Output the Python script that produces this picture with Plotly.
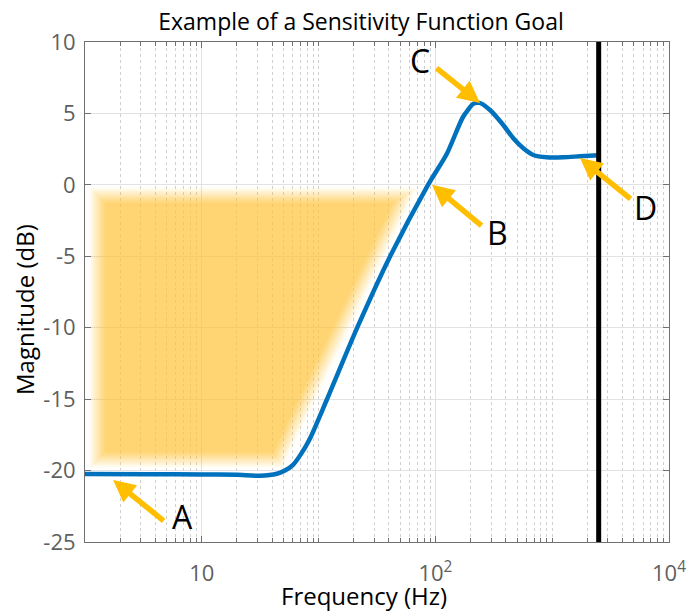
import numpy as np
import plotly.graph_objects as go

# ---- data -------------------------------------------------------------
# sensitivity magnitude response
freq = [1, 3.6, 10, 20, 31.5, 44, 51.5, 60.4, 70.6, 84.4, 117.3, 216, 408,
        865, 1257, 1723, 2100, 2270, 2410, 2934, 3811, 4645, 5660, 6890,
        8970, 12450, 17300, 25000]
mag_db = [-20.24, -20.25, -20.27, -20.3, -20.36, -20.22, -20.0, -19.6, -18.85,
          -17.75, -15.06, -9.93, -5.03, 0.0, 2.2, 4.75, 5.66, 5.75, 5.73,
          5.24, 4.19, 3.26, 2.56, 2.09, 1.93, 1.93, 2.0, 2.07]

# goal region (low-frequency disturbance rejection band)
goal_freq = [1.27, 550, 44.9, 1.27]
goal_db = [-0.71, -0.71, -19.26, -19.26]

# upper frequency limit of the goal
limit_freq = 25000

# annotated points: arrow tip, tail offset (px), label position
marks = ["A", "B", "C", "D"]
tip_freq = [1.74, 935, 2410, 17300]
tip_db = [-20.66, 0.0, 5.73, 1.88]
tail_dx = [52, 51, -45, 52]
tail_dy = [42, 42, -36, 42]
label_freq = [6.77, 3370, 738, 62300]
label_db = [-23.18, -3.3, 8.74, -1.55]

x_tickvals = [10, 1000, 100000]
x_ticktext = ["10", "10<sup>2</sup>", "10<sup>4</sup>"]
y_tickvals = [-25, -20, -15, -10, -5, 0, 5, 10]
y_ticktext = ["-25", "-20", "-15", "-10", "-5", "0", "5", "10"]

# ---- geometry ---------------------------------------------------------
W, H = 687, 611
ML, MR, MT, MB = 85, 18, 42, 69
PW, PH = W - ML - MR, H - MT - MB
XR = (0, 5)        # log10 range
YR = (-25, 10)


def to_px(f, db):
    f = np.asarray(f, float)
    db = np.asarray(db, float)
    px = ML + PW * (np.log10(f) - XR[0]) / (XR[1] - XR[0])
    py = MT + PH * (YR[1] - db) / (YR[1] - YR[0])
    return px, py


def from_px(px, py):
    lf = XR[0] + (np.asarray(px) - ML) * (XR[1] - XR[0]) / PW
    db = YR[1] - (np.asarray(py) - MT) * (YR[1] - YR[0]) / PH
    return 10 ** lf, db


def offset_polygon(pts, d):
    """Move every edge of a convex polygon inward by d pixels (d<0: outward)."""
    pts = np.asarray(pts, float)
    n = len(pts)
    area = 0.5 * np.sum(pts[:, 0] * np.roll(pts[:, 1], -1)
                        - np.roll(pts[:, 0], -1) * pts[:, 1])
    sign = 1.0 if area > 0 else -1.0
    lines = []
    for i in range(n):
        p, q = pts[i], pts[(i + 1) % n]
        t = (q - p) / np.linalg.norm(q - p)
        inward = sign * np.array([-t[1], t[0]])
        lines.append((p + d * inward, t))
    out = []
    for i in range(n):
        (p1, t1), (p2, t2) = lines[i - 1], lines[i]
        A = np.array([t1, -t2]).T
        s, _ = np.linalg.solve(A, p2 - p1)
        out.append(p1 + s * t1)
    return np.array(out)


fig = go.Figure()

# soft-edged goal region: stacked translucent layers
gx, gy = to_px(goal_freq, goal_db)
poly = np.column_stack([gx, gy])
steps = np.arange(-8, 9)
n_layers = len(steps)
a_max = 0.70
prev = 0.0
for i, d in enumerate(steps, start=1):
    target = a_max * (i / n_layers)
    a = 1 - (1 - target) / (1 - prev)
    prev = target
    p = offset_polygon(poly, d)
    fx, fy = from_px(p[:, 0], p[:, 1])
    fig.add_trace(go.Scatter(
        x=list(fx) + [fx[0]], y=list(fy) + [fy[0]],
        mode="lines", line=dict(width=0), fill="toself",
        fillcolor=f"rgba(255,200,62,{a:.4f})",
        hoverinfo="skip", showlegend=False))

# frequency response
fig.add_trace(go.Scatter(
    x=freq, y=mag_db, mode="lines",
    line=dict(color="#0072BD", width=4.5, shape="spline", smoothing=0.7),
    showlegend=False))

# frequency limit
fig.add_trace(go.Scatter(
    x=[limit_freq, limit_freq], y=[YR[0] - 0.1, YR[1] + 0.2], mode="lines",
    line=dict(color="black", width=5), cliponaxis=False, showlegend=False))

annotations = []
for k in range(len(marks)):
    annotations.append(dict(
        x=np.log10(tip_freq[k]), y=tip_db[k], xref="x", yref="y",
        ax=tail_dx[k], ay=tail_dy[k], text="", showarrow=True,
        arrowhead=2, arrowsize=0.8, arrowwidth=5.5, arrowcolor="#FFBE00"))
    annotations.append(dict(
        x=np.log10(label_freq[k]), y=label_db[k], xref="x", yref="y",
        text=marks[k], showarrow=False, xanchor="center", yanchor="middle",
        font=dict(size=32, color="black", family="Open Sans")))

# axis titles
annotations.append(dict(
    x=(364 - ML) / PW, y=-(595 - MT - PH) / PH, xref="paper", yref="paper",
    text="Frequency (Hz)", showarrow=False, xanchor="center",
    yanchor="middle", font=dict(size=24, color="black", family="Open Sans")))
annotations.append(dict(
    x=-(ML - 24) / PW, y=1 - (310 - MT) / PH, xref="paper", yref="paper",
    text="Magnitude (dB)", showarrow=False, textangle=-90,
    xanchor="center", yanchor="middle",
    font=dict(size=24, color="black", family="Open Sans")))

axis_gray = "#707070"
fig.update_layout(
    width=W, height=H, autosize=False,
    margin=dict(l=ML, r=MR, t=MT, b=MB, pad=0),
    paper_bgcolor="white", plot_bgcolor="white",
    font=dict(family="Open Sans", color="#5f5f5f"),
    title=dict(text="Example of a Sensitivity Function Goal",
               x=361 / W, xanchor="center", xref="container",
               y=1 - 22 / H, yanchor="middle", yref="container",
               font=dict(size=23, color="black", family="Open Sans")),
    annotations=annotations,
    xaxis=dict(
        type="log", range=list(XR), automargin=False,
        tickmode="array", tickvals=x_tickvals, ticktext=x_ticktext,
        tickfont=dict(size=22, color="#5f5f5f"),
        ticks="inside", ticklen=6, tickcolor=axis_gray, ticklabelstandoff=12,
        showline=True, linecolor=axis_gray, linewidth=1, mirror="ticks",
        showgrid=True, gridcolor="#e2e2e2", gridwidth=1,
        zeroline=False,
        minor=dict(
            tickmode="array",
            tickvals=[k * 10 ** n for n in range(0, 5) for k in range(1, 10)
                      if k * 10 ** n not in x_tickvals and k * 10 ** n != 1],
            ticks="inside", ticklen=4, tickcolor=axis_gray,
            showgrid=True, gridcolor="#cfcfcf", griddash="dot", gridwidth=1),
    ),
    yaxis=dict(
        range=list(YR), automargin=False,
        tickmode="array", tickvals=y_tickvals, ticktext=y_ticktext,
        tickfont=dict(size=22, color="#5f5f5f"),
        ticks="inside", ticklen=6, tickcolor=axis_gray, ticklabelstandoff=4,
        showline=True, linecolor=axis_gray, linewidth=1, mirror="ticks",
        showgrid=True, gridcolor="#e2e2e2", gridwidth=1, zeroline=False,
    ),
)

fig.write_html("out.html")
